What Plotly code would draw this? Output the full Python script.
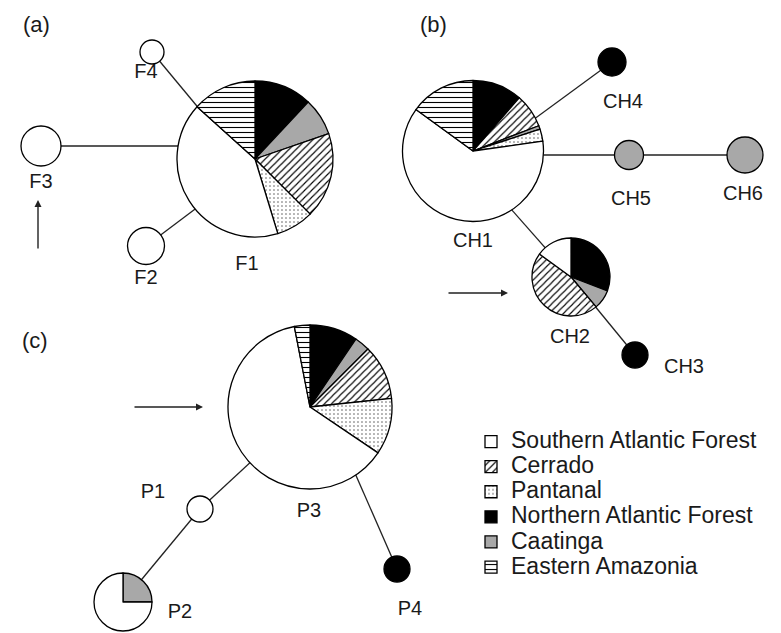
import plotly.graph_objects as go

W, H = 781, 633

# ---------------- data ----------------
regions = ["Southern Atlantic Forest", "Cerrado", "Pantanal",
           "Northern Atlantic Forest", "Caatinga", "Eastern Amazonia"]

# slice composition of every haplotype, clockwise from 12 o'clock
F1_regions = ["Northern Atlantic Forest", "Caatinga", "Cerrado", "Pantanal",
              "Southern Atlantic Forest", "Eastern Amazonia"]
F1_values = [43, 28, 64, 28, 149, 48]
F2_regions = ["Southern Atlantic Forest"]
F2_values = [1]
F3_regions = ["Southern Atlantic Forest"]
F3_values = [1]
F4_regions = ["Southern Atlantic Forest"]
F4_values = [1]

CH1_regions = ["Northern Atlantic Forest", "Cerrado", "Caatinga", "Pantanal",
               "Southern Atlantic Forest", "Eastern Amazonia"]
CH1_values = [41, 28, 3, 10, 224, 54]
CH2_regions = ["Northern Atlantic Forest", "Caatinga", "Cerrado", "Southern Atlantic Forest"]
CH2_values = [111, 29, 166, 54]
CH3_regions = ["Northern Atlantic Forest"]
CH3_values = [1]
CH4_regions = ["Northern Atlantic Forest"]
CH4_values = [1]
CH5_regions = ["Caatinga"]
CH5_values = [1]
CH6_regions = ["Caatinga"]
CH6_values = [1]

P1_regions = ["Southern Atlantic Forest"]
P1_values = [1]
P2_regions = ["Caatinga", "Southern Atlantic Forest"]
P2_values = [1, 3]
P3_regions = ["Northern Atlantic Forest", "Caatinga", "Cerrado", "Pantanal",
              "Southern Atlantic Forest", "Eastern Amazonia"]
P3_values = [34, 11, 39, 40, 225, 11]
P4_regions = ["Northern Atlantic Forest"]
P4_values = [1]

haplotypes = {
    "F1": (F1_regions, F1_values), "F2": (F2_regions, F2_values),
    "F3": (F3_regions, F3_values), "F4": (F4_regions, F4_values),
    "CH1": (CH1_regions, CH1_values), "CH2": (CH2_regions, CH2_values),
    "CH3": (CH3_regions, CH3_values), "CH4": (CH4_regions, CH4_values),
    "CH5": (CH5_regions, CH5_values), "CH6": (CH6_regions, CH6_values),
    "P1": (P1_regions, P1_values), "P2": (P2_regions, P2_values),
    "P3": (P3_regions, P3_values), "P4": (P4_regions, P4_values),
}

edges = [("F1", "F2"), ("F1", "F3"), ("F1", "F4"),
         ("CH1", "CH4"), ("CH1", "CH5"), ("CH5", "CH6"), ("CH1", "CH2"), ("CH2", "CH3"),
         ("P3", "P1"), ("P1", "P2"), ("P3", "P4")]

# ---------------- layout (pixel positions / radii) ----------------
node_pos = {
    "F1": (255, 159, 78), "F2": (146, 246, 18.5), "F3": (41, 146, 20), "F4": (152, 52, 12),
    "CH1": (473, 151, 70.5), "CH2": (571, 277, 39), "CH3": (635, 355, 13),
    "CH4": (612, 62, 14), "CH5": (629, 155, 14.5), "CH6": (745, 155, 18),
    "P1": (200, 509, 13), "P2": (123, 602, 29), "P3": (310, 407, 82), "P4": (397, 569, 13),
}
# where an edge meets the (hidden) inside of the first node, relative to its centre
edge_anchor = {("F1", "F3"): (0, -13), ("F1", "F4"): (0, 17), ("F1", "F2"): (0, 5),
               ("CH1", "CH4"): (0, 13), ("CH1", "CH5"): (0, 4), ("CH1", "CH2"): (0, 15),
               ("P3", "P4"): (16, 0)}
label_pos = {
    "F1": (247, 265), "F2": (146, 279), "F3": (41, 183), "F4": (146, 73),
    "CH1": (473, 242), "CH2": (570, 338), "CH3": (684, 368), "CH4": (623, 103),
    "CH5": (631, 200), "CH6": (743, 195),
    "P1": (153, 493), "P2": (180, 613), "P3": (309, 512), "P4": (410, 610),
}
panel_labels = [("(a)", 36, 24), ("(b)", 433, 24), ("(c)", 35, 340)]
arrows = [((38, 200), (38, 250)), ((508, 293), (447, 293)), ((203, 407), (133, 407))]

STYLE = {
    "Southern Atlantic Forest": dict(color="white", shape="", fg="black", size=5, sol=0.2),
    "Cerrado": dict(color="white", shape="/", fg="black", size=5, sol=0.22),
    "Pantanal": dict(color="white", shape=".", fg="#555555", size=4, sol=0.12),
    "Northern Atlantic Forest": dict(color="black", shape="", fg="black", size=5, sol=0.2),
    "Caatinga": dict(color="#a8a8a8", shape="", fg="black", size=5, sol=0.2),
    "Eastern Amazonia": dict(color="white", shape="-", fg="black", size=5, sol=0.22),
}

FONT = "Liberation Sans, Arial, Helvetica, sans-serif"


def make_pie(name, labels, values, cx, cy, r, showlegend=False, shown_labels=None):
    st = [STYLE[l] for l in labels]
    return go.Pie(
        name=name, labels=shown_labels or labels, values=values, sort=False,
        direction="clockwise", rotation=0,
        domain=dict(x=[(cx - r) / W, (cx + r) / W], y=[1 - (cy + r) / H, 1 - (cy - r) / H]),
        marker=dict(
            colors=[s["color"] for s in st],
            line=dict(color="black", width=1.3),
            pattern=dict(shape=[s["shape"] for s in st], fgcolor=[s["fg"] for s in st],
                         bgcolor=["white"] * len(st), size=[s["size"] for s in st],
                         solidity=[s["sol"] for s in st], fillmode="replace"),
        ),
        textinfo="none", hoverinfo="label+value", showlegend=showlegend,
    )


fig = go.Figure()

# edges (drawn in the cartesian layer, beneath the pies)
ex, ey = [], []
for a, b in edges:
    dx, dy = edge_anchor.get((a, b), (0, 0))
    ex += [node_pos[a][0] + dx, node_pos[b][0], None]
    ey += [node_pos[a][1] + dy, node_pos[b][1], None]
fig.add_trace(go.Scatter(x=ex, y=ey, mode="lines", line=dict(color="#222222", width=1.3),
                         hoverinfo="skip", showlegend=False))

# haplotype labels
names = list(label_pos.keys())
fig.add_trace(go.Scatter(x=[label_pos[n][0] for n in names], y=[label_pos[n][1] for n in names],
                         text=names, mode="text", textposition="middle center",
                         textfont=dict(family=FONT, size=20, color="#1a1a1a"),
                         hoverinfo="skip", showlegend=False))

# legend carrier (hidden behind F1); larger label text, compact rows
legend_text = ['<span style="font-size:23px">%s</span>' % r for r in regions]
cx, cy, _ = node_pos["F1"]
fig.add_trace(make_pie("legend", regions, [1] * len(regions), cx, cy, 3,
                       showlegend=True, shown_labels=legend_text))

for n, (labs, vals) in haplotypes.items():
    x, y, r = node_pos[n]
    fig.add_trace(make_pie(n, labs, vals, x, y, r))

annotations = []
for t, x, y in panel_labels:
    annotations.append(dict(x=x, y=y, xref="x", yref="y", text=t, showarrow=False,
                            font=dict(family=FONT, size=22, color="#1a1a1a")))
for (hx, hy), (tx, ty) in arrows:
    annotations.append(dict(x=hx, y=hy, ax=tx, ay=ty, xref="x", yref="y", axref="x", ayref="y",
                            text="", showarrow=True, arrowhead=2, arrowsize=1, arrowwidth=1.4,
                            arrowcolor="#222222"))

fig.update_layout(
    width=W, height=H, margin=dict(l=0, r=0, t=0, b=0),
    paper_bgcolor="white", plot_bgcolor="white",
    xaxis=dict(range=[0, W], visible=False, fixedrange=True),
    yaxis=dict(range=[H, 0], visible=False, fixedrange=True),
    showlegend=True,
    legend=dict(x=471 / W, y=1 - 424 / H, xanchor="left", yanchor="top",
                font=dict(family=FONT, size=17, color="#1a1a1a"),
                bgcolor="rgba(0,0,0,0)", itemwidth=30, tracegroupgap=0, traceorder="normal"),
    annotations=annotations,
)

fig.write_html("out.html")
